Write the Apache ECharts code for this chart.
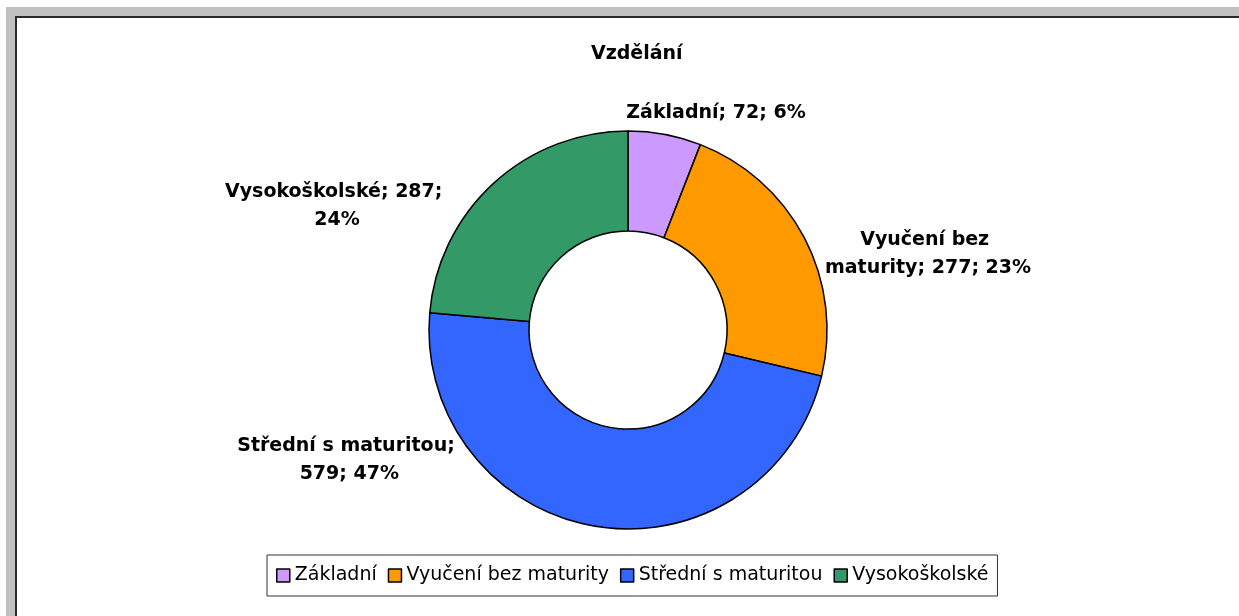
<!DOCTYPE html>
<html>
<head>
<meta charset="utf-8">
<script src="https://cdn.jsdelivr.net/npm/echarts@6/dist/echarts.min.js"></script>
<style>
  html, body { margin: 0; padding: 0; background: #fff; }
  .frame { position: absolute; left: 6px; top: 7px; right: 0; bottom: 0; background: #c0c0c0; }
  .sheet { position: absolute; left: 9px; top: 9px; right: 0; bottom: 0; background: #fff;
           border-left: 2px solid #2a2a2a; border-top: 2px solid #2a2a2a; }
  #chart { position: absolute; left: 0; top: 0; width: 1239px; height: 616px; }
</style>
</head>
<body>
<div class="frame"><div class="sheet"></div></div>
<div id="chart"></div>
<script>
const categories = ['Základní', 'Vyučení bez maturity', 'Střední s maturitou', 'Vysokoškolské'];
const counts = [72, 277, 579, 287];
const percents = [6, 23, 47, 24];
const colors = ['#CC99FF', '#FF9900', '#3366FF', '#339966'];

// where Excel put the data labels (centre of each label block)
const labelSpots = [[716, 113], [928, 254], [346, 460], [337, 206]];
const labelWidths = [null, 215, 240, 240];

const chart = echarts.init(document.getElementById('chart'));

chart.setOption({
  animation: false,
  title: {
    text: 'Vzdělání',
    left: 586,
    top: 40,
    textStyle: {
      fontFamily: 'DejaVu Sans',
      fontSize: 19,
      fontWeight: 'bold',
      color: '#000'
    }
  },
  legend: {
    data: categories,
    left: 267,
    top: 555,
    orient: 'horizontal',
    icon: 'rect',
    itemWidth: 13,
    itemHeight: 13,
    itemGap: 11,
    padding: [11, 9],
    backgroundColor: '#fff',
    borderColor: '#333',
    borderWidth: 1,
    borderRadius: 0,
    itemStyle: {
      borderColor: '#000',
      borderWidth: 1.5
    },
    textStyle: {
      fontFamily: 'DejaVu Sans',
      fontSize: 19,
      color: '#000'
    }
  },
  series: [{
    type: 'pie',
    center: [628, 330],
    radius: [99, 199],
    startAngle: 90,
    clockwise: true,
    avoidLabelOverlap: false,
    itemStyle: {
      borderColor: '#000',
      borderWidth: 1.5
    },
    label: {
      show: true,
      position: 'outside',
      fontFamily: 'DejaVu Sans',
      fontSize: 19,
      fontWeight: 'bold',
      color: '#000',
      lineHeight: 28,
      align: 'center',
      overflow: 'break',
      formatter: p => `${p.name}; ${p.value}; ${percents[p.dataIndex]}%`
    },
    labelLine: { show: false },
    labelLayout: p => ({
      x: labelSpots[p.dataIndex][0],
      y: labelSpots[p.dataIndex][1],
      align: 'center',
      verticalAlign: 'middle'
    }),
    emphasis: { disabled: true },
    data: categories.map((name, i) => ({
      name: name,
      value: counts[i],
      itemStyle: { color: colors[i] },
      label: labelWidths[i] ? { width: labelWidths[i] } : {}
    }))
  }]
});

window.addEventListener('resize', () => chart.resize());
</script>
</body>
</html>
